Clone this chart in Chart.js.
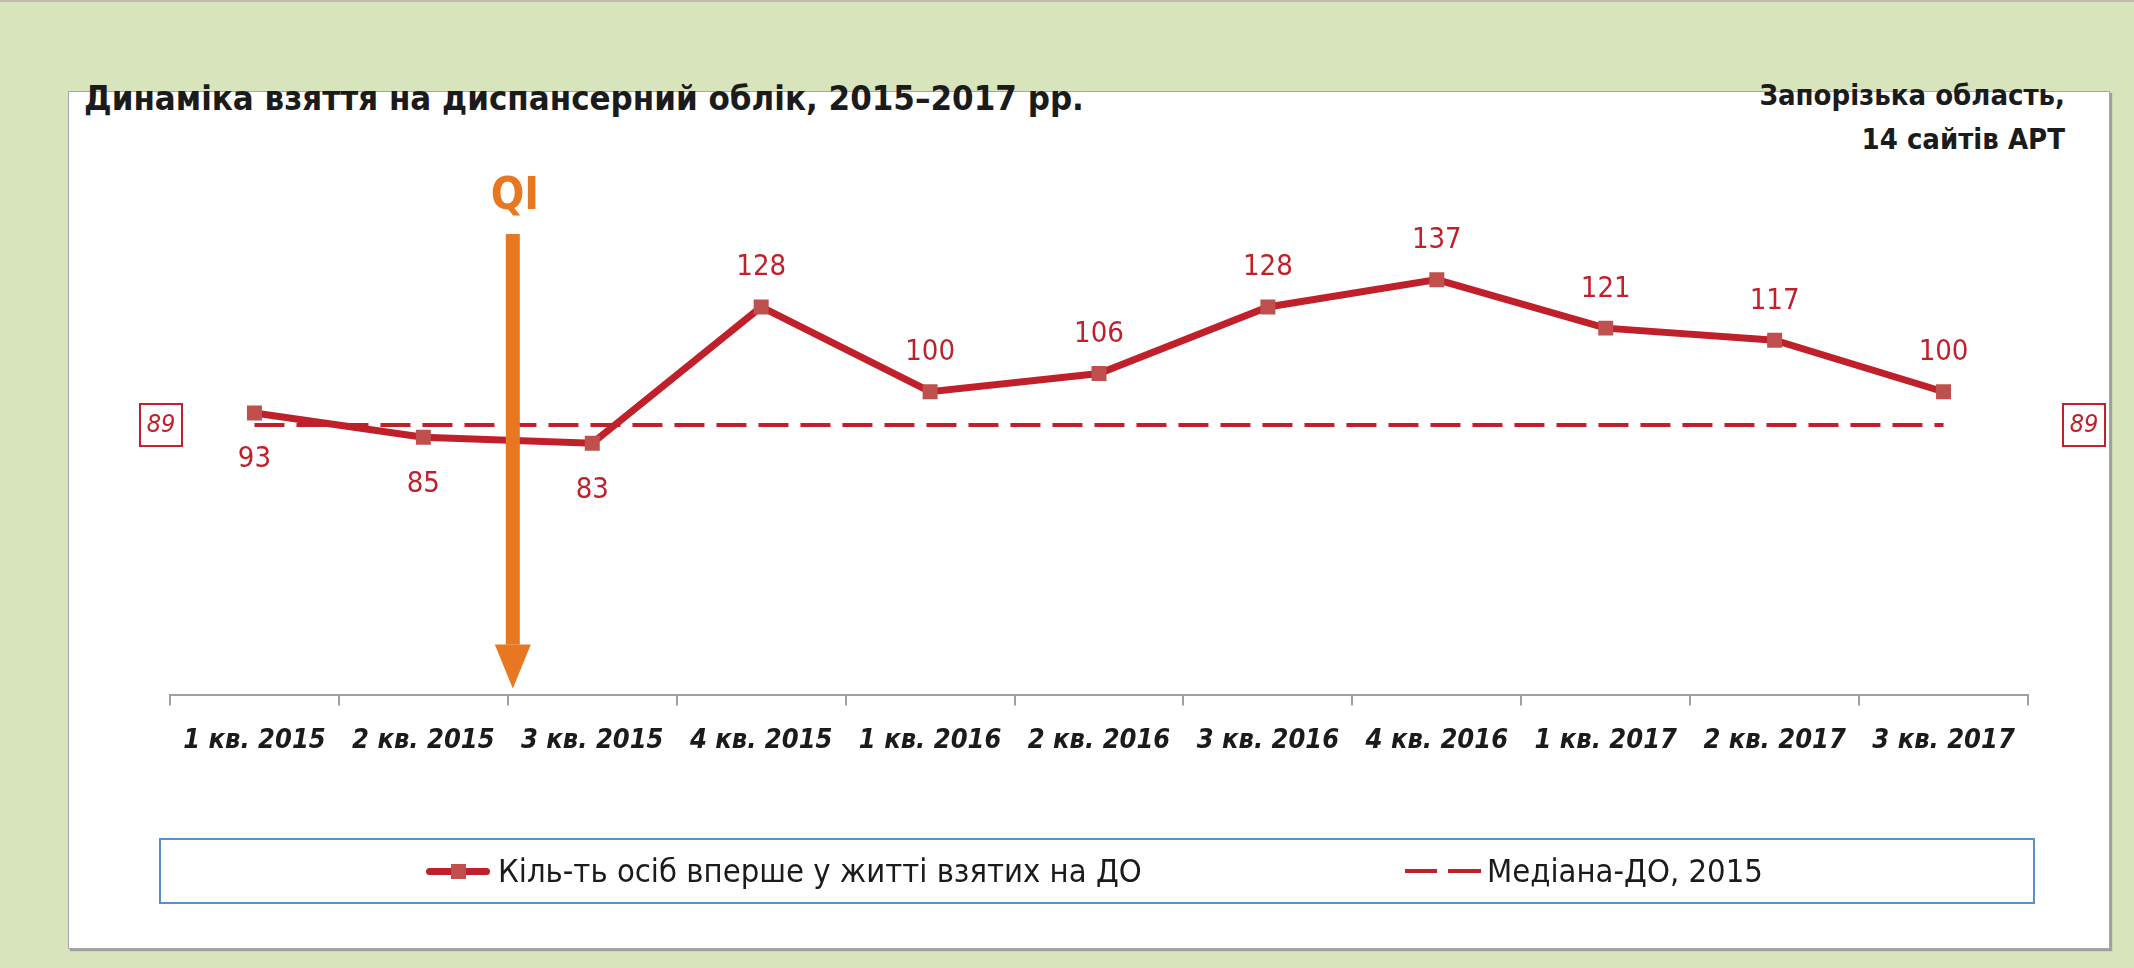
<!DOCTYPE html>
<html>
<head>
<meta charset="utf-8">
<script src="https://cdn.jsdelivr.net/npm/chart.js@4.4.1/dist/chart.umd.min.js"></script>
<style>
  html, body { margin: 0; padding: 0; width: 2134px; height: 968px; overflow: hidden; background: #d8e4bc; }
  body { position: relative; font-family: 'Liberation Sans Narrow', 'DejaVu Sans Condensed', 'Open Sans', sans-serif; }
  .topline { position: absolute; left: 0; top: 0; width: 2134px; height: 2px; background: #c8b6b2; }
  .panel { position: absolute; left: 68px; top: 91px; width: 2040px; height: 856px; background: #fff;
           border: 1px solid #a6a6a6; box-shadow: 2px 2px 1px #a0a0a0; }
  .title { position: absolute; left: 84px; top: 76px; font-size: 34.5px; line-height: 44px; font-weight: bold; color: #1b1b1b; white-space: nowrap; }
  .region { position: absolute; right: 69px; top: 73px; font-size: 29px; line-height: 44px; font-weight: bold; color: #1b1b1b; text-align: right; }
  #chart { position: absolute; left: 0; top: 0; }
  .legend { position: absolute; left: 159px; top: 838px; width: 1876px; height: 66px; box-sizing: border-box;
            border: 2px solid #5b8fd0; }
  .item { position: absolute; top: 0; height: 62px; display: flex; align-items: center; font-size: 32.5px; color: #1b1b1b; white-space: nowrap; }
  .sym-line { position: relative; width: 64px; height: 7px; border-radius: 4px; background: #c0202a; margin-right: 8px; }
  .sym-line i { position: absolute; left: 25px; top: -4px; width: 15px; height: 15px; background: #c0504d; }
  .sym-dash { width: 76px; height: 4px; margin-right: 6px;
              background: linear-gradient(to right, #c0202a 0 32px, transparent 32px 43px, #c0202a 43px 76px); }
</style>
</head>
<body>
<div class="topline"></div>
<div class="panel"></div>
<div class="title">Динаміка взяття на диспансерний облік, 2015–2017 рр.</div>
<div class="region">Запорізька область,<br>14 сайтів АРТ</div>
<canvas id="chart" width="2134" height="968"></canvas>
<div class="legend">
  <div class="item" style="left:265px"><span class="sym-line"><i></i></span>Кіль-ть осіб вперше у житті взятих на ДО</div>
  <div class="item" style="left:1244px"><span class="sym-dash"></span>Медіана-ДО, 2015</div>
</div>
<script>
const quarters = ["1 кв. 2015", "2 кв. 2015", "3 кв. 2015", "4 кв. 2015", "1 кв. 2016", "2 кв. 2016",
                  "3 кв. 2016", "4 кв. 2016", "1 кв. 2017", "2 кв. 2017", "3 кв. 2017"];
const newOnDO = [93, 85, 83, 128, 100, 106, 128, 137, 121, 117, 100];
const medianDO2015 = [89, 89, 89, 89, 89, 89, 89, 89, 89, 89, 89];
const medianValue = 89;
const labelSide = ["below", "below", "below", "above", "above", "above", "above", "above", "above", "above", "above"];
const qiAfterIndex = 1; // QI intervention between 2 кв. 2015 and 3 кв. 2015

const NARROW = "'Liberation Sans Narrow', 'DejaVu Sans Condensed', 'Open Sans', sans-serif";
const RED = "#c0202a";

// подписи значений
const valueLabels = {
  id: "valueLabels",
  afterDatasetsDraw(chart) {
    const ctx = chart.ctx;
    const meta = chart.getDatasetMeta(0);
    ctx.save();
    ctx.font = "29px " + NARROW;
    ctx.fillStyle = RED;
    ctx.textAlign = "center";
    ctx.textBaseline = "middle";
    meta.data.forEach((pt, i) => {
      const dy = labelSide[i] === "below" ? 47 : -39;
      ctx.fillText(String(newOnDO[i]), pt.x, pt.y + dy);
    });
    ctx.restore();
  }
};

// стрелка QI и рамки с медианой
const extras = {
  id: "extras",
  afterDraw(chart) {
    const ctx = chart.ctx;
    const x = chart.scales.x;
    const y = chart.scales.y;
    const ax = (x.getPixelForValue(qiAfterIndex) + x.getPixelForValue(qiAfterIndex + 1)) / 2 + 5;
    const top = 234, tip = y.getPixelForValue(0) - 6;
    ctx.save();
    ctx.fillStyle = "#e87722";
    ctx.fillRect(ax - 7, top, 14, tip - 44 - top);
    ctx.beginPath();
    ctx.moveTo(ax - 18, tip - 44);
    ctx.lineTo(ax + 18, tip - 44);
    ctx.lineTo(ax, tip);
    ctx.closePath();
    ctx.fill();
    ctx.font = "bold 44px " + NARROW;
    ctx.textAlign = "center";
    ctx.textBaseline = "middle";
    ctx.fillText("QI", ax + 2, 198);

    const my = y.getPixelForValue(medianValue);
    ctx.strokeStyle = RED;
    ctx.lineWidth = 2;
    ctx.font = "italic 25px " + NARROW;
    ctx.fillStyle = RED;
    [161, 2084].forEach(cx => {
      ctx.strokeRect(cx - 21, my - 21, 42, 42);
      ctx.fillText(String(medianValue), cx, my);
    });
    ctx.restore();
  }
};

new Chart(document.getElementById("chart"), {
  type: "line",
  data: {
    labels: quarters,
    datasets: [
      {
        label: "Кіль-ть осіб вперше у житті взятих на ДО",
        data: newOnDO,
        borderColor: RED,
        borderWidth: 7,
        pointStyle: "rect",
        pointRadius: 10.6,
        pointBackgroundColor: "#c0504d",
        pointBorderColor: "#c0504d",
        pointBorderWidth: 0,
        tension: 0
      },
      {
        label: "Медіана-ДО, 2015",
        data: medianDO2015,
        borderColor: RED,
        borderWidth: 4,
        borderDash: [30, 12],
        pointRadius: 0,
        tension: 0
      }
    ]
  },
  options: {
    responsive: false,
    animation: false,
    events: [],
    layout: { padding: { left: 170, right: 106, top: 210, bottom: 192 } },
    plugins: { legend: { display: false }, tooltip: { enabled: false } },
    scales: {
      x: {
        offset: true,
        grid: { offset: true, drawOnChartArea: false, color: "#a0a0a0", lineWidth: 2, tickLength: 11 },
        border: { display: true, color: "#a0a0a0", width: 2 },
        ticks: { color: "#1b1b1b", padding: 19, maxRotation: 0, minRotation: 0, autoSkip: false,
                 font: { family: NARROW, size: 27, weight: "bold", style: "italic" } }
      },
      y: { display: false, min: 0, max: 160 }
    }
  },
  plugins: [valueLabels, extras]
});
</script>
</body>
</html>
